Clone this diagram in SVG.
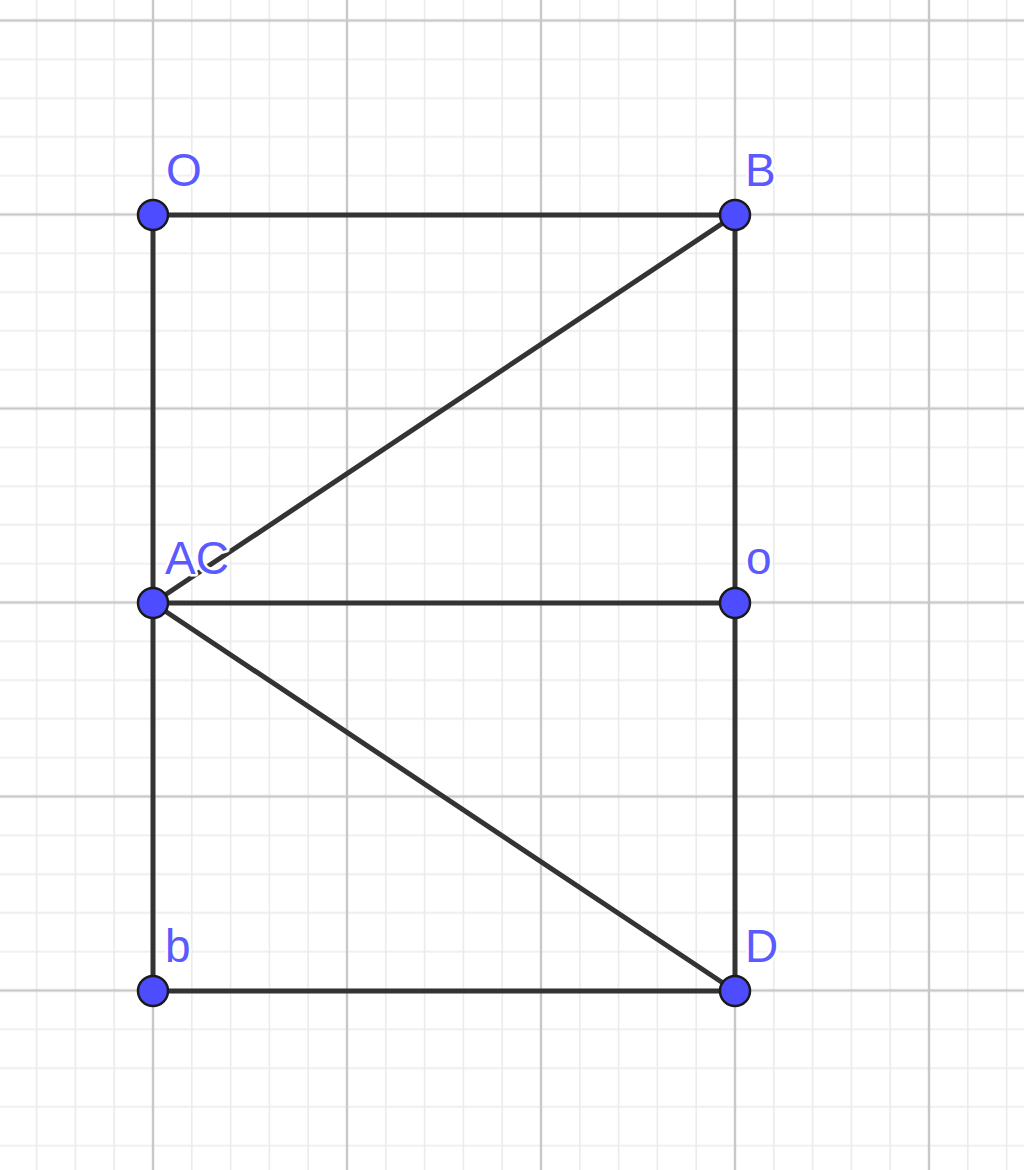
<svg xmlns="http://www.w3.org/2000/svg" width="1024" height="1170" viewBox="0 0 1024 1170">
  <style>
    .seg { stroke: #333333; stroke-width: 5; stroke-linecap: round; fill: none; }
    .pt { fill: #4d4dff; stroke: #1a1a1a; stroke-width: 2.5; }
    .lbl { font-family: "Liberation Sans", Arial, sans-serif; font-size: 46px; fill: #5a5aff; stroke: #ffffff; stroke-width: 5; paint-order: stroke; stroke-linejoin: round; }
  </style>
  <defs>
    <pattern id="grid" patternUnits="userSpaceOnUse" x="153" y="214.5" width="194" height="194">
      <g stroke="#ebebeb" stroke-width="1.6">
        <line x1="38.8" y1="0" x2="38.8" y2="194"/>
        <line x1="77.6" y1="0" x2="77.6" y2="194"/>
        <line x1="116.4" y1="0" x2="116.4" y2="194"/>
        <line x1="155.2" y1="0" x2="155.2" y2="194"/>
        <line x1="0" y1="38.8" x2="194" y2="38.8"/>
        <line x1="0" y1="77.6" x2="194" y2="77.6"/>
        <line x1="0" y1="116.4" x2="194" y2="116.4"/>
        <line x1="0" y1="155.2" x2="194" y2="155.2"/>
      </g>
      <g stroke="#c8c8c8" stroke-width="2.4">
        <line x1="0" y1="0" x2="0" y2="194"/>
        <line x1="0" y1="0" x2="194" y2="0"/>
        <line x1="194" y1="0" x2="194" y2="194"/>
        <line x1="0" y1="194" x2="194" y2="194"/>
      </g>
    </pattern>
  </defs>
  <rect width="1024" height="1170" fill="#ffffff"/>
  <rect width="1024" height="1170" fill="url(#grid)"/>

  <g id="connectors">
    <line class="seg" x1="153" y1="215" x2="735" y2="215"/>
    <line class="seg" x1="153" y1="215" x2="153" y2="991"/>
    <line class="seg" x1="735" y1="215" x2="735" y2="991"/>
    <line class="seg" x1="153" y1="603" x2="735" y2="603"/>
    <line class="seg" x1="153" y1="991" x2="735" y2="991"/>
    <line class="seg" x1="153" y1="603" x2="735" y2="215"/>
    <line class="seg" x1="153" y1="603" x2="735" y2="991"/>
  </g>

  <g id="node-O">
    <circle class="pt" cx="153" cy="215" r="15"/>
    <text class="lbl" x="166" y="186">O</text>
  </g>
  <g id="node-B">
    <circle class="pt" cx="735" cy="215" r="15"/>
    <text class="lbl" x="745" y="186">B</text>
  </g>
  <g id="node-AC">
    <circle class="pt" cx="153" cy="603" r="15"/>
    <text class="lbl" x="165" y="574">AC</text>
  </g>
  <g id="node-o">
    <circle class="pt" cx="735" cy="603" r="15"/>
    <text class="lbl" x="746" y="574">o</text>
  </g>
  <g id="node-b">
    <circle class="pt" cx="153" cy="991" r="15"/>
    <text class="lbl" x="165" y="962">b</text>
  </g>
  <g id="node-D">
    <circle class="pt" cx="735" cy="991" r="15"/>
    <text class="lbl" x="745" y="962">D</text>
  </g>
</svg>
